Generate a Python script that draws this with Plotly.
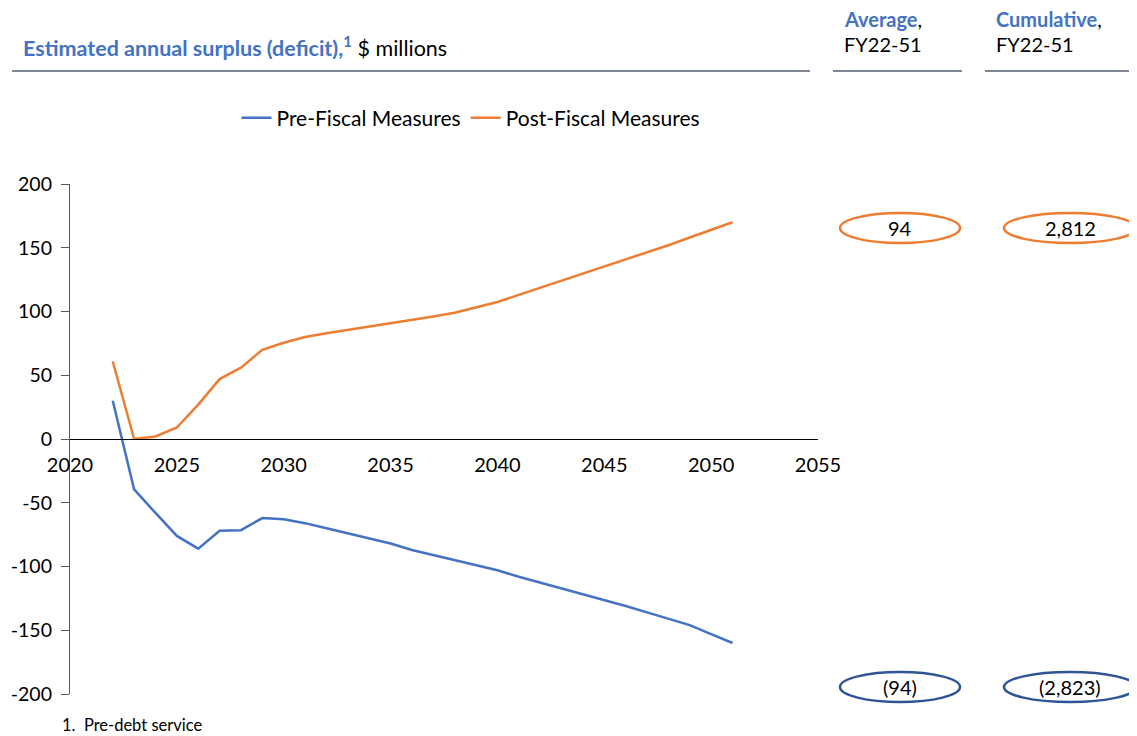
import plotly.graph_objects as go

years = list(range(2022, 2052))
pre_fiscal = [30, -39.5, -58, -76, -86, -72, -71.5, -62, -63, -66,
              -70, -74, -78, -82, -87, -91, -95.5, -99, -103, -108,
              -112.5, -117, -121.5, -126, -131, -136, -141, -146, -153, -160]
post_fiscal = [61, 0, 2, 9, 27, 47, 56, 70, 75.5, 80,
               83, 85.5, 88, 91, 93, 96, 99, 103, 107.5, 113,
               118.5, 124, 129.5, 135, 140.5, 146, 152, 158, 164, 170]
series_names = ["Pre-Fiscal Measures", "Post-Fiscal Measures"]
avg_labels = ["94", "(94)"]
cum_labels = ["2,812", "(2,823)"]
x_ticks = [2020, 2025, 2030, 2035, 2040, 2045, 2050, 2055]
y_ticks = [-200, -150, -100, -50, 0, 50, 100, 150, 200]
y_ticktext = ["-200", "-150", "-100", "-50", "0", "50", "100", "150", "200"]

# the page adds an 8px body margin, so the figure is laid out 8px smaller
OFF = 8
W, H = 1137 - OFF, 736 - OFF
L, R, T, B = 70 - OFF, 818 - OFF, 184 - OFF, 694 - OFF
FONT = "Lato"
BLUE = "#4472C4"
ORANGE = "#ED7D31"
DARKBLUE = "#2F5597"


def px(x):
    # x in reference pixel coordinates
    return (x - OFF - L) / (R - L)


def py(y):
    return (B - (y - OFF)) / (B - T)


fig = go.Figure()
fig.add_trace(go.Scatter(x=years, y=pre_fiscal, mode="lines", name=series_names[0],
                         line=dict(color=BLUE, width=2.5)))
fig.add_trace(go.Scatter(x=years, y=post_fiscal, mode="lines", name=series_names[1],
                         line=dict(color=ORANGE, width=2.5)))

fig.update_layout(
    width=W, height=H,
    margin=dict(l=L, r=W - R, t=T, b=H - B, pad=0, autoexpand=False),
    paper_bgcolor="white", plot_bgcolor="white",
    font=dict(family=FONT, size=19, color="black"),
    legend=dict(orientation="h", x=px(471), y=py(118), xanchor="center", yanchor="middle",
                font=dict(size=21), bgcolor="rgba(0,0,0,0)", itemwidth=30),
    xaxis=dict(range=[2020, 2055], tickvals=x_ticks, showgrid=False, zeroline=False,
               showline=True, linecolor="black", linewidth=1.2, ticks="outside",
               ticklen=8, tickcolor="rgba(0,0,0,0)", automargin=False,
               anchor="free", position=0.5, tickfont=dict(size=20)),
    yaxis=dict(range=[-200, 200], tickvals=y_ticks, ticktext=y_ticktext, showgrid=False,
               zeroline=False, showline=True, linecolor="#595959", linewidth=1.2,
               ticks="outside", ticklen=8, tickcolor="#595959", tickfont=dict(size=19.5),
               ticklabelstandoff=5, automargin=False),
)

shapes = []
# header underlines
for x0, x1 in [(12, 810), (833, 962), (985, 1140)]:
    shapes.append(dict(type="line", xref="paper", yref="paper", x0=px(x0), x1=px(x1),
                       y0=py(71), y1=py(71), line=dict(color="#7F8696", width=2)))
# ovals
for cx, w in [(900, 120), (1070, 132)]:
    for cy, col in [(228, ORANGE), (687, DARKBLUE)]:
        shapes.append(dict(type="circle", xref="paper", yref="paper",
                           x0=px(cx - w / 2), x1=px(cx + w / 2),
                           y0=py(cy + 15), y1=py(cy - 15),
                           line=dict(color=col, width=2.5)))
fig.update_layout(shapes=shapes)

ann = []
ann.append(dict(xref="paper", yref="paper", x=px(21), y=py(46), xanchor="left", yanchor="middle",
                showarrow=False, font=dict(size=21.5),
                text=f"<b><span style='color:{BLUE}'>Estimated annual surplus (deficit),</span></b>"
                     f"<sup><b><span style='color:{BLUE}'>1</span></b></sup> $ millions"))
for x0, head in [(842, "Average"), (994, "Cumulative")]:
    ann.append(dict(xref="paper", yref="paper", x=px(x0), y=py(19), xanchor="left", yanchor="middle",
                    showarrow=False, align="left", font=dict(size=20),
                    text=f"<b><span style='color:{BLUE}'>{head}</span></b>,"))
    ann.append(dict(xref="paper", yref="paper", x=px(x0), y=py(44), xanchor="left", yanchor="middle",
                    showarrow=False, align="left", font=dict(size=20), text="FY22-51"))
for cx, labels in [(900, avg_labels), (1070, cum_labels)]:
    for cy, lab in zip([228, 687], labels):
        ann.append(dict(xref="paper", yref="paper", x=px(cx), y=py(cy), xanchor="center",
                        yanchor="middle", showarrow=False, text=lab, font=dict(size=20)))
ann.append(dict(xref="paper", yref="paper", x=px(60), y=py(725), xanchor="left", yanchor="middle",
                showarrow=False, text="1.\u00a0\u00a0Pre-debt service", font=dict(size=16.5)))
fig.update_layout(annotations=ann)

fig.write_html("out.html")
